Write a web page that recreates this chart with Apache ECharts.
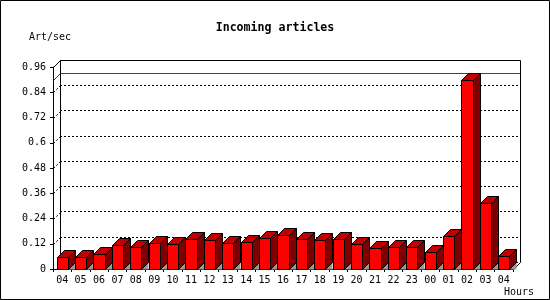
<!DOCTYPE html>
<html>
<head>
<meta charset="utf-8">
<script src="https://cdn.jsdelivr.net/npm/echarts@6/dist/echarts.min.js"></script>
<style>html,body{margin:0;padding:0;background:#fff}#c{width:550px;height:300px}</style>
</head>
<body>
<div id="c"></div>
<script>
const hours = ['04','05','06','07','08','09','10','11','12','13','14','15','16','17','18','19','20','21','22','23','00','01','02','03','04'];
const rates = [0.056,0.056,0.070,0.113,0.106,0.122,0.117,0.144,0.136,0.122,0.130,0.149,0.160,0.141,0.136,0.141,0.117,0.098,0.103,0.103,0.079,0.157,0.898,0.312,0.062];
const yTicks = [0,0.12,0.24,0.36,0.48,0.6,0.72,0.84,0.96];
const title = 'Incoming articles';
const yName = 'Art/sec';
const xName = 'Hours';

const D = 7; // 3D depth in px
const FONT = 'DejaVu Sans Mono';
const maxRate = Math.max.apply(null, rates);

const chart = echarts.init(document.getElementById('c'), null, {renderer: 'canvas'});

function barItem(params, api) {
  const x = api.value(0), v = api.value(1);
  const p = api.coord([x, v]);
  const p0 = api.coord([x, 0]);
  const bw = api.size([1, 0])[0] * 0.6;
  const l = Math.round(p[0] - bw / 2) + 0.5, r = Math.round(p[0] + bw / 2) + 0.5;
  const t = Math.round(p[1]) + 0.5, b = Math.round(p0[1]) + 0.5;
  const ls = {stroke: '#000', lineWidth: 1};
  return {
    type: 'group',
    children: [
      {type: 'polygon', shape: {points: [[r, b], [r + D, b - D], [r + D, b]]}, style: {fill: '#999', stroke: null}},
      {type: 'polygon', shape: {points: [[r, t], [r + D, t - D], [r + D, b - D], [r, b]]}, style: Object.assign({fill: '#7f0000'}, ls)},
      {type: 'polygon', shape: {points: [[l, t], [l + D, t - D], [r + D, t - D], [r, t]]}, style: Object.assign({fill: '#c00000'}, ls)},
      {type: 'rect', shape: {x: l, y: t, width: r - l, height: b - t}, style: Object.assign({fill: '#ff0000'}, ls)}
    ]
  };
}

function wallItem(params, api) {
  const cs = params.coordSys;
  const x0 = Math.round(cs.x) + 0.5, y0 = Math.round(cs.y) + 0.5;
  const x1 = Math.round(cs.x + cs.width) + 0.5, y1 = Math.round(cs.y + cs.height) + 0.5;
  const children = [];
  yTicks.forEach(function (tv) {
    if (tv <= 0 || tv >= yTicks[yTicks.length - 1]) return;
    const yy = Math.round(api.coord([0, tv])[1]) + 0.5;
    children.push({type: 'line', shape: {x1: x0, y1: yy, x2: x0 + D, y2: yy - D}, style: {stroke: '#000', lineWidth: 1, lineDash: [2, 2]}});
  });
  const my = Math.round(api.coord([0, maxRate])[1]) + 0.5;
  children.push({type: 'polyline', shape: {points: [[x0, my], [x0 + D, my - D], [x1 + D, my - D]]}, style: {stroke: '#e00000', lineWidth: 1, fill: null}});
  children.push({type: 'polyline', shape: {points: [[x0, y0], [x0 + D, y0 - D], [x1 + D, y0 - D], [x1 + D, y1 - D], [x1, y1]]}, style: {stroke: '#000', lineWidth: 1, fill: null}});
  children.push({type: 'line', shape: {x1: x0 + D, y1: y0 - D, x2: x0 + D, y2: y1 - D}, style: {stroke: '#000', lineWidth: 1}});
  return {type: 'group', children: children};
}

const option = {
  backgroundColor: '#fff',
  animation: false,
  title: {
    text: title, left: 'center', top: 17,
    textStyle: {fontFamily: FONT, fontWeight: 'bold', fontSize: 11.6, color: '#000'}
  },
  graphic: [
    {type: 'rect', shape: {x: 0.5, y: 0.5, width: 549, height: 299}, style: {fill: null, stroke: '#000', lineWidth: 1}, z: 100},
    {type: 'text', left: 29, top: 32, style: {text: yName, font: '10px "DejaVu Sans Mono"', fill: '#000'}},
    {type: 'text', left: 504, top: 287, style: {text: xName, font: '10px "DejaVu Sans Mono"', fill: '#000'}}
  ],
  grid: [
    {left: 53, top: 67, width: 460, height: 202},
    {left: 60, top: 60, width: 460, height: 202}
  ],
  xAxis: [
    {
      type: 'category', data: hours, gridIndex: 0,
      axisLine: {lineStyle: {color: '#000', width: 1}},
      axisTick: {show: true, length: 3, lineStyle: {color: '#000'}},
      axisLabel: {fontFamily: FONT, fontSize: 10, color: '#000', margin: 6, interval: 0}
    },
    {type: 'category', data: hours, gridIndex: 1, show: false}
  ],
  yAxis: [
    {
      type: 'value', gridIndex: 0, min: 0, max: 0.96, interval: 0.12,
      axisLine: {show: true, lineStyle: {color: '#000', width: 1}},
      axisTick: {show: true, length: 3, lineStyle: {color: '#000'}},
      axisLabel: {fontFamily: FONT, fontSize: 10, color: '#000', margin: 7},
      splitLine: {show: false}
    },
    {
      type: 'value', gridIndex: 1, min: 0, max: 0.96, interval: 0.12,
      axisLine: {show: false}, axisTick: {show: false}, axisLabel: {show: false},
      splitLine: {show: true, lineStyle: {color: '#000', width: 1, type: [2, 2]}}
    }
  ],
  series: [
    {
      type: 'custom', xAxisIndex: 0, yAxisIndex: 0, z: 3,
      renderItem: wallItem, data: [[0, 0]], silent: true
    },
    {
      type: 'custom', xAxisIndex: 0, yAxisIndex: 0, z: 4,
      renderItem: barItem,
      data: rates.map(function (v, i) { return [i, v]; })
    }
  ]
};
chart.setOption(option);
</script>
</body>
</html>
